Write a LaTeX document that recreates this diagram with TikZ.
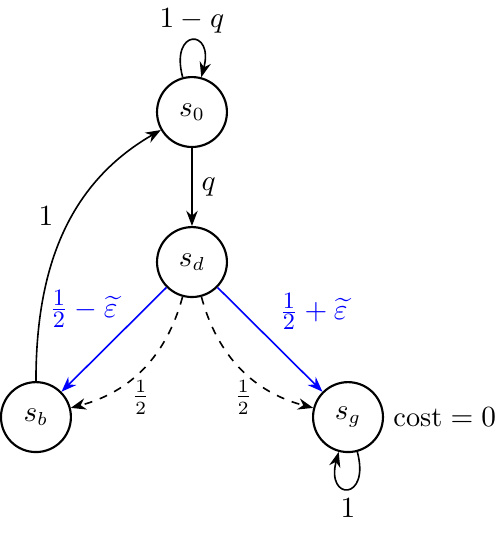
\documentclass[tikz,border=0pt]{standalone}
\usepackage{amsmath}
\usetikzlibrary{arrows.meta, positioning}
\definecolor{probblue}{RGB}{0,0,255}
\newcommand{\lfrac}[2]{\frac{\mbox{\fontsize{8.8}{9}\selectfont#1}}{\mbox{\fontsize{8.8}{9}\selectfont#2}}}
\tikzset{
    st/.style={circle, draw, thick, minimum size=0.92cm, inner sep=0pt},
    arrow/.style={semithick, -{Stealth[length=2mm]}},
    bluearrow/.style={semithick, -{Stealth[length=2mm]}, probblue},
    dasharrow/.style={semithick, dashed, -{Stealth[length=2mm]}}
}

\begin{document}
\begin{tikzpicture}[font=\fontsize{10.6}{12.7}\selectfont]
    \useasboundingbox (0,0) rectangle (6.526,-7.263);

    % States
    \node[st] (s0) at (2.526,-1.474) {$s_0$};
    \node[st, on grid, below=1.974cm of s0] (sd) {$s_d$};
    \node[st, on grid, below left=2.04cm and 2.053cm of sd] (sb) {$s_b$};
    \node[st, on grid, below right=2.04cm and 2.053cm of sd] (sg) {$s_g$};

    % Cost
    \node[right=0pt of sg] (cost) {$\text{cost} = 0$};

    % Transitions
    \draw[arrow] (s0) to[loop above, looseness=7] node[above=-1pt] {$1-q$} (s0);
    \draw[arrow] (s0) -- node[right] {$q$} (sd);
    \draw[bluearrow] (sd) -- node[above left, xshift=5pt, yshift=1pt] {$\lfrac{1}{2}-\widetilde{\varepsilon}$} (sb);
    \draw[bluearrow] (sd) -- node[above right] {$\lfrac{1}{2}+\widetilde{\varepsilon}$} (sg);
    \draw[dasharrow] (sd) to[bend left=30] node[pos=0.52, below] {$\frac{1}{2}$} (sb);
    \draw[dasharrow] (sd) to[bend right=30] node[pos=0.52, below] {$\frac{1}{2}$} (sg);
    \draw[arrow] (sb) to[out=90, in=210] node[pos=0.5, above left] {$1$} (s0);
    \draw[arrow] (sg) to[loop below, looseness=7] node[below] {$1$} (sg);
\end{tikzpicture}
\end{document}
